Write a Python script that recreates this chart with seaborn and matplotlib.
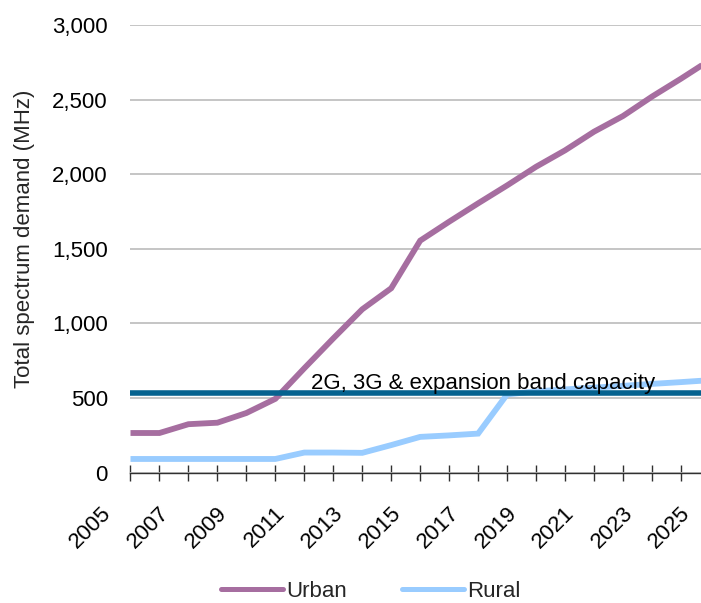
import matplotlib
matplotlib.use("Agg")
import matplotlib.pyplot as plt
import matplotlib.transforms as mtransforms
from matplotlib.ticker import FuncFormatter, MultipleLocator, FixedLocator
import numpy as np
import pandas as pd
import seaborn as sns

# Spectrum demand by year (MHz)
years = list(range(2005, 2026))
urban = [266, 266, 325, 335, 400, 495, 700, 900, 1095, 1236, 1555,
         1682, 1805, 1925, 2050, 2160, 2285, 2390, 2520, 2640, 2765]
rural = [92, 92, 92, 92, 92, 92, 135, 135, 133, 185, 240,
         250, 262, 525, 545, 558, 570, 582, 595, 607, 620]
capacity_mhz = 535
capacity_label = "2G, 3G & expansion band capacity"
series_names = ["Urban", "Rural"]
y_label = "Total spectrum demand (MHz)"
labelled_years = years[::2]

URBAN_C = "#A66EA0"
RURAL_C = "#99CCFF"
CAP_C = "#05628F"

sns.set_theme(style="white")
plt.rcParams["font.family"] = ["Liberation Sans", "DejaVu Sans"]
FS = 16

df = pd.DataFrame({
    "year": years * 2,
    "demand": urban + rural,
    "area": [series_names[0]] * len(years) + [series_names[1]] * len(years),
})
cap_df = pd.DataFrame({"year": years, "demand": [capacity_mhz] * len(years)})

fig = plt.figure(figsize=(7.01, 6.03), dpi=100)
ax = fig.add_axes([0.18616, 0.21609, 0.8265, 0.74245])

sns.lineplot(data=df, x="year", y="demand", hue="area",
             palette={series_names[0]: URBAN_C, series_names[1]: RURAL_C},
             linewidth=4.2, ax=ax, legend=False)
sns.lineplot(data=cap_df, x="year", y="demand", color=CAP_C,
             linewidth=4.0, ax=ax, legend=False)
for ln in ax.lines:
    ln.set_solid_capstyle("butt")
    ln.set_solid_joinstyle("miter")

ax.text(2011.23, 559, capacity_label, fontsize=FS, color="black",
        ha="left", va="baseline")

ax.set_xlim(2005, 2025)
ax.set_ylim(0, 3000)
ax.yaxis.set_major_locator(MultipleLocator(500))
ax.yaxis.set_major_formatter(FuncFormatter(lambda v, p: f"{int(v):,}"))
ax.xaxis.set_major_locator(FixedLocator(labelled_years))
ax.xaxis.set_minor_locator(FixedLocator(years))
ax.xaxis.set_major_formatter(FuncFormatter(lambda v, p: f"{int(round(v))}"))

ax.grid(axis="y", color="#C0C0C0", linewidth=1.3)
ax.grid(axis="x", visible=False)
ax.set_axisbelow(True)
for side in ["left", "top", "right"]:
    ax.spines[side].set_visible(False)
ax.spines["bottom"].set_color("#303030")
ax.spines["bottom"].set_linewidth(1.0)

ax.tick_params(axis="y", length=0, pad=16.2, labelsize=FS, labelcolor="black")
ax.tick_params(axis="x", which="both", direction="inout", length=11.5,
               width=1.0, color="#303030", labelsize=FS, labelcolor="black",
               pad=16, bottom=True)
offset = mtransforms.ScaledTranslation(-15 / 100, 0, fig.dpi_scale_trans)
for lbl in ax.get_xticklabels():
    lbl.set_rotation(45)
    lbl.set_ha("right")
    lbl.set_va("top")
    lbl.set_transform(lbl.get_transform() + offset)

ax.set_xlabel("")
ax.set_ylabel(y_label, fontsize=FS)
ax.yaxis.set_label_coords(-0.1648, 0.523)

handles = [plt.Line2D([], [], color=URBAN_C, linewidth=3.6),
           plt.Line2D([], [], color=RURAL_C, linewidth=3.6)]
fig.legend(handles, series_names, loc="center", bbox_to_anchor=(0.529, 0.0187),
           ncol=2, frameon=False, fontsize=FS, handlelength=2.8,
           handletextpad=0.135, columnspacing=2.46, borderpad=0.0)

fig.savefig("out.png", dpi=100)
